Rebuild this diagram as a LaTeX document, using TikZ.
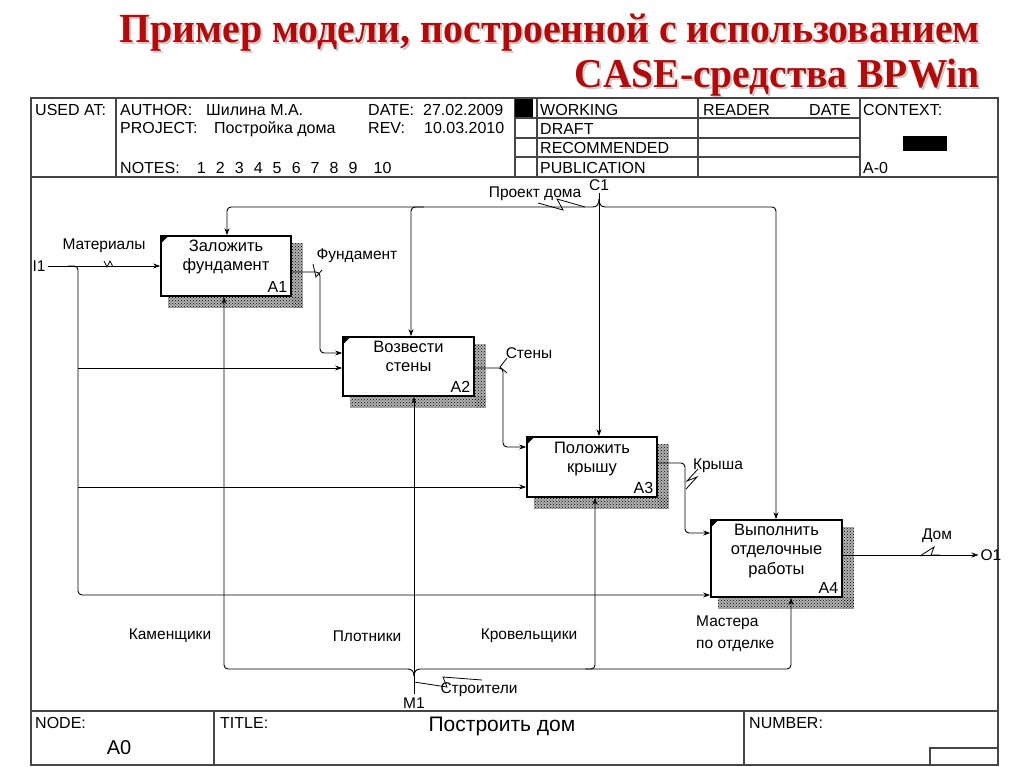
\documentclass[tikz,border=0pt]{standalone}
\usepackage{graphicx}
\usepackage{fontspec}
\setmainfont{Liberation Sans}
\newfontfamily\titlefont{Liberation Serif}
\usetikzlibrary{arrows.meta,patterns,calc,backgrounds}
\definecolor{titlered}{RGB}{176,12,12}
\definecolor{titleshadow}{RGB}{210,200,200}
\definecolor{framegray}{RGB}{70,70,70}
\tikzset{
  frameline/.style={draw=framegray, line width=1.2pt},
  conn/.style={draw=black, line width=0.9pt, rounded corners=4pt},
  arr/.style={conn, -{Stealth[length=7pt,width=5pt]}},
  proc/.style={draw=black, line width=1.7pt, fill=white, inner sep=0pt},
  hatchbase/.style={fill=black!30},
  hatch/.style={pattern=crosshatch dots, pattern color=black},
  lbl/.style={font=\fontsize{15.5}{18}\selectfont, inner sep=0pt},
  hdr/.style={font=\fontsize{16}{18}\selectfont, inner sep=0pt, anchor=base west},
  boxtext/.style={font=\fontsize{16.5}{19.5}\selectfont, align=center, inner sep=0pt, anchor=north},
  boxnum/.style={font=\fontsize{16}{18}\selectfont, inner sep=0pt, anchor=base east},
  squig/.style={draw=black, line width=0.8pt},
  corner/.style={fill=black},
  ttl/.style={anchor=base east, inner sep=0},
}
\newcommand{\lineone}{\resizebox{860pt}{28.5pt}{\titlefont\bfseries Пример модели, построенной с использованием}}
\newcommand{\linetwo}{\resizebox{405pt}{28.5pt}{\titlefont\bfseries CASE-средства BPWin}}
\begin{document}
\begin{tikzpicture}[x=1pt,y=-1pt]
\useasboundingbox (0,0) rectangle (1024,767);

% ---------- title ----------
\node[ttl, text=titleshadow] (T1s) at (982,45) {\lineone};
\node[ttl, text=titleshadow] (T2s) at (982,90) {\linetwo};
\node[ttl, text=titlered] (T1) at (980,43) {\lineone};
\node[ttl, text=titlered] (T2) at (980,88) {\linetwo};

% ---------- frame ----------
\draw[frameline] (31,98) rectangle (998,765);
\draw[frameline] (31,177) -- (998,177);
\draw[frameline] (31,711) -- (998,711);
\draw[frameline] (116,98) -- (116,177);
\draw[frameline] (515,98) -- (515,177);
\draw[frameline] (537,98) -- (537,177);
\draw[frameline] (698,98) -- (698,177);
\draw[frameline] (860,98) -- (860,177);
\draw[frameline] (515,118) -- (860,118);
\draw[frameline] (515,138) -- (860,138);
\draw[frameline] (515,157) -- (860,157);
\fill[black] (515,99) rectangle (533,117);
\fill[black] (903,136) rectangle (947,151);
\draw[frameline] (214,711) -- (214,765);
\draw[frameline] (744,711) -- (744,765);
\draw[frameline] (930,748) rectangle (998,765);

% ---------- header text ----------
\node[hdr] (h1) at (35,116) {USED AT:};
\node[hdr] (h2) at (120,116) {AUTHOR:};
\node[hdr] (h3) at (206,116) {Шилина М.А.};
\node[hdr] (h4) at (368,116) {DATE:};
\node[hdr] (h5) at (423,116) {27.02.2009};
\node[hdr] (h6) at (120,134) {PROJECT:};
\node[hdr] (h7) at (214,134) {Постройка дома};
\node[hdr] (h8) at (368,134) {REV:};
\node[hdr] (h9) at (424,134) {10.03.2010};
\node[hdr] (h10) at (120,174) {NOTES:\hspace{17pt}\makebox[19pt][l]{1}\makebox[19pt][l]{2}\makebox[19pt][l]{3}\makebox[19pt][l]{4}\makebox[19pt][l]{5}\makebox[19pt][l]{6}\makebox[19pt][l]{7}\makebox[19pt][l]{8}\makebox[25pt][l]{9}10};
\node[hdr] (h11) at (540,116) {WORKING};
\node[hdr] (h12) at (540,135) {DRAFT};
\node[hdr] (h13) at (540,154) {RECOMMENDED};
\node[hdr] (h14) at (540,174) {PUBLICATION};
\node[hdr] (h15) at (703,116) {READER};
\node[hdr] (h16) at (809,116) {DATE};
\node[hdr] (h17) at (863,116) {CONTEXT:};
\node[hdr] (h18) at (863,174) {A-0};

% ---------- bottom band ----------
\node[hdr] (b1) at (35,728) {NODE:};
\node[hdr] (b2) at (220,728) {TITLE:};
\node[hdr] (b3) at (749,728) {NUMBER:};
\node[font=\fontsize{21}{24}\selectfont, inner sep=0, anchor=base] (b4) at (502,731) {Построить дом};
\node[font=\fontsize{20}{24}\selectfont, inner sep=0, anchor=base] (b5) at (119,754) {A0};

% ---------- boxes ----------
\node[proc, minimum width=130pt, minimum height=60pt] (A1) at (226,266) {};
\node[proc, minimum width=131pt, minimum height=59pt] (A2) at (408.5,366.5) {};
\node[proc, minimum width=130pt, minimum height=60pt] (A3) at (592,467) {};
\node[proc, minimum width=131pt, minimum height=77pt] (A4) at (776.5,558.5) {};

\begin{scope}[on background layer]
\fill[white] (0,0) rectangle (1024,767);
\foreach \b in {A1,A2,A3,A4}{
  \fill[hatchbase] ($(\b.north east)+(0,8)$) rectangle ($(\b.south east)+(11,11)$);
  \fill[hatchbase] ($(\b.south west)+(8,0)$) rectangle ($(\b.south east)+(11,11)$);
  \fill[hatch] ($(\b.north east)+(0,8)$) rectangle ($(\b.south east)+(11,11)$);
  \fill[hatch] ($(\b.south west)+(8,0)$) rectangle ($(\b.south east)+(11,11)$);
}
\end{scope}
\foreach \b in {A1,A2,A3,A4}{
  \fill[corner] ($(\b.north west)+(1,1)$) -- ++(7,0) -- ++(-7,7) -- cycle;
}

\node[boxtext] (A1t) at ($(A1.north)+(0,4.5)$) {Заложить\\фундамент};
\node[boxtext] (A2t) at ($(A2.north)+(0,4.5)$) {Возвести\\стены};
\node[boxtext] (A3t) at ($(A3.north)+(0,5.5)$) {Положить\\крышу};
\node[boxtext] (A4t) at ($(A4.north)+(0,4.5)$) {Выполнить\\отделочные\\работы};
\node[boxnum] (A1n) at ($(A1.south east)+(-4.5,-4.5)$) {A1};
\node[boxnum] (A2n) at ($(A2.south east)+(-4.5,-4.5)$) {A2};
\node[boxnum] (A3n) at ($(A3.south east)+(-4.5,-4.5)$) {A3};
\node[boxnum] (A4n) at ($(A4.south east)+(-4.5,-4)$) {A4};

% ---------- boundary labels ----------
\node[lbl, inner xsep=2pt] (I1) at (39,266) {I1};
\node[lbl, inner xsep=2pt] (O1) at (991,555) {O1};
\node[lbl, inner ysep=2pt] (C1) at (599,185) {C1};
\node[lbl, inner ysep=3pt] (M1) at (414,703) {M1};

% ---------- inputs ----------
\draw[arr] (I1.east) -- (A1.west);
\draw[arr] (68,266) -| (78,595) -- (A4.west |- 0,595);
\draw[arr] (78,368) -- (A2.west |- 0,368);
\draw[arr] (78,487) -- (A3.west |- 0,487);

% ---------- outputs ----------
\draw[arr] (A1.east |- 0,272) -| (320,353) -- (A2.west |- 0,353);
\draw[arr] (A2.east |- 0,368) -| (503,447) -- (A3.west |- 0,447);
\draw[arr] (A3.east |- 0,463) -| (685,533) -- (A4.west |- 0,533);
\draw[arr] (A4.east |- 0,555) -- (O1.west);

% ---------- controls ----------
\draw[arr] (C1.south) -- (C1.south |- A3.north);
\draw[arr] (593,207) -| (227,0 |- A1.north);
\draw[arr] (605,207) -| (776,0 |- A4.north);
\draw[arr] (424,207) -| (411,0 |- A2.north);
\draw[conn] (593,207) .. controls (597,207) and (599,204) .. (599,199);
\draw[conn] (605,207) .. controls (601,207) and (599,204) .. (599,199);

% ---------- mechanisms ----------
\draw[arr] (M1.north) -- (M1.north |- A2.south);
\draw[arr] (408,669) -| (224,0 |- A1.south);
\draw[arr] (420,669) -| (791,0 |- A4.south);
\draw[arr] (585,669) -| (595,0 |- A3.south);
\draw[conn] (408,669) .. controls (412,669) and (414,672) .. (414,676);
\draw[conn] (420,669) .. controls (416,669) and (414,672) .. (414,676);

% ---------- arrow labels ----------
\node[lbl] (L1) at (104,246) {Материалы};
\node[lbl] (L2) at (357,256) {Фундамент};
\node[lbl] (L3) at (529,353) {Стены};
\node[lbl] (L4) at (718,466) {Крыша};
\node[lbl] (L5) at (937,536) {Дом};
\node[lbl] (L6) at (535,194) {Проект дома};
\node[lbl] (L7) at (170,636) {Каменщики};
\node[lbl] (L8) at (367,636) {Плотники};
\node[lbl] (L9) at (529,636) {Кровельщики};
\node[lbl, align=left, anchor=west, font=\fontsize{15.5}{22}\selectfont] (L10) at (696,634) {Мастера\\по отделке};
\node[lbl] (L11) at (479,690) {Строители};

% ---------- squiggles ----------
\draw[squig] (104,261) -- (107,267) -- (110,261) -- (113,267);
\draw[squig] (313,264) -- (316,277) -- (322,270);
\draw[squig] (507,358) -- (500,367) -- (507,373);
\draw[squig] (698,469) -- (687,481) -- (697,477) -- (686,489);
\draw[squig] (920,556) -- (934,547) -- (931,555) -- (940,555);
\draw[squig] (538,203) -- (563,210) -- (557,199) -- (585,207);
\draw[squig] (414,682) -- (447,687) -- (443,677) -- (482,680);
\end{tikzpicture}
\end{document}
